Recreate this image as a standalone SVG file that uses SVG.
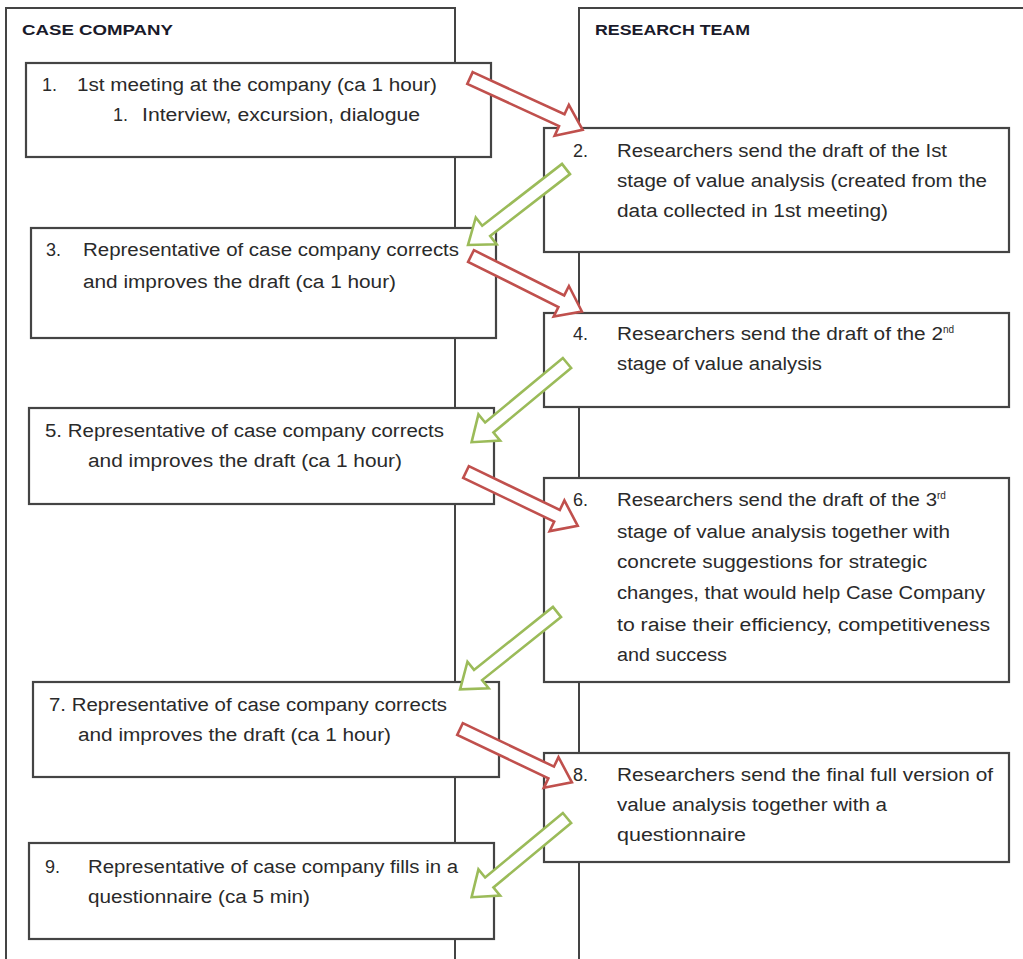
<svg xmlns="http://www.w3.org/2000/svg" xmlns:xlink="http://www.w3.org/1999/xlink" width="1023" height="959" viewBox="0 0 1023 959">
<style>
.lane{fill:#fff;stroke:#444;stroke-width:2}
.box{fill:#fff;stroke:#444;stroke-width:2.2}
.hdr{font-family:"Liberation Sans",Arial,sans-serif;font-weight:bold;font-size:15px;fill:#1a1a2a}
.t{font-family:"Liberation Sans",Arial,sans-serif;font-size:18px;fill:#2a2a2a}
.sup{font-size:10px}
.red{fill:#fff;stroke:#c0504d;stroke-width:2.6;stroke-linejoin:miter}
.green{fill:#fff;stroke:#9bbb59;stroke-width:2.6;stroke-linejoin:miter}
</style>
<defs>
<polygon id="arr" points="0,-6.5 101,-6.5 101,-17 124,0 101,17 101,6.5 0,6.5"/>
</defs>
<rect width="1023" height="959" fill="#fff"/>
<g id="lane-case">
<rect class="lane" x="6" y="8" width="449" height="1000"/>
<text class="hdr" x="22" y="35" textLength="151" lengthAdjust="spacingAndGlyphs">CASE COMPANY</text>
</g>
<g id="lane-research">
<rect class="lane" x="579" y="8" width="500" height="1000"/>
<text class="hdr" x="595" y="35" textLength="155" lengthAdjust="spacingAndGlyphs">RESEARCH TEAM</text>
</g>
<g id="n1">
<rect class="box" x="26" y="63" width="465" height="94"/>
<text class="t" x="42" y="91">1.</text>
<text class="t" x="77" y="91" textLength="360" lengthAdjust="spacingAndGlyphs">1st meeting at the company (ca 1 hour)</text>
<text class="t" x="113" y="121">1.</text>
<text class="t" x="142" y="121" textLength="278" lengthAdjust="spacingAndGlyphs">Interview, excursion, dialogue</text>
</g>
<g id="n2">
<rect class="box" x="544" y="128" width="465" height="124"/>
<text class="t" x="573" y="157">2.</text>
<text class="t" x="617" y="157" textLength="330" lengthAdjust="spacingAndGlyphs">Researchers send the draft of the Ist</text>
<text class="t" x="617" y="187" textLength="370" lengthAdjust="spacingAndGlyphs">stage of value analysis (created from the</text>
<text class="t" x="617" y="217" textLength="271" lengthAdjust="spacingAndGlyphs">data collected in 1st meeting)</text>
</g>
<g id="n3">
<rect class="box" x="31" y="228" width="465" height="110"/>
<text class="t" x="46" y="256">3.</text>
<text class="t" x="83" y="256" textLength="376" lengthAdjust="spacingAndGlyphs">Representative of case company corrects</text>
<text class="t" x="83" y="288" textLength="313" lengthAdjust="spacingAndGlyphs">and improves the draft (ca 1 hour)</text>
</g>
<g id="n4">
<rect class="box" x="544" y="313" width="465" height="94"/>
<text class="t" x="573" y="340">4.</text>
<text class="t" x="617" y="340"><tspan textLength="326" lengthAdjust="spacingAndGlyphs">Researchers send the draft of the 2</tspan><tspan class="sup" dy="-7">nd</tspan></text>
<text class="t" x="617" y="370" textLength="205" lengthAdjust="spacingAndGlyphs">stage of value analysis</text>
</g>
<g id="n5">
<rect class="box" x="29" y="408" width="465" height="96"/>
<text class="t" x="45" y="437" textLength="399" lengthAdjust="spacingAndGlyphs">5. Representative of case company corrects</text>
<text class="t" x="88" y="467" textLength="314" lengthAdjust="spacingAndGlyphs">and improves the draft (ca 1 hour)</text>
</g>
<g id="n6">
<rect class="box" x="544" y="478" width="465" height="204"/>
<text class="t" x="573" y="506">6.</text>
<text class="t" x="617" y="506"><tspan textLength="320" lengthAdjust="spacingAndGlyphs">Researchers send the draft of the 3</tspan><tspan class="sup" dy="-7">rd</tspan></text>
<text class="t" x="617" y="538" textLength="333" lengthAdjust="spacingAndGlyphs">stage of value analysis together with</text>
<text class="t" x="617" y="568" textLength="310" lengthAdjust="spacingAndGlyphs">concrete suggestions for strategic</text>
<text class="t" x="617" y="599" textLength="368" lengthAdjust="spacingAndGlyphs">changes, that would help Case Company</text>
<text class="t" x="617" y="631" textLength="373" lengthAdjust="spacingAndGlyphs">to raise their efficiency, competitiveness</text>
<text class="t" x="617" y="661" textLength="110" lengthAdjust="spacingAndGlyphs">and success</text>
</g>
<g id="n7">
<rect class="box" x="33" y="682" width="466" height="95"/>
<text class="t" x="49" y="711" textLength="398" lengthAdjust="spacingAndGlyphs">7. Representative of case company corrects</text>
<text class="t" x="78" y="741" textLength="313" lengthAdjust="spacingAndGlyphs">and improves the draft (ca 1 hour)</text>
</g>
<g id="n8">
<rect class="box" x="544" y="753" width="465" height="109"/>
<text class="t" x="573" y="781">8.</text>
<text class="t" x="617" y="781" textLength="376" lengthAdjust="spacingAndGlyphs">Researchers send the final  full version of</text>
<text class="t" x="617" y="811" textLength="270" lengthAdjust="spacingAndGlyphs">value analysis together with a</text>
<text class="t" x="617" y="841" textLength="129" lengthAdjust="spacingAndGlyphs">questionnaire</text>
</g>
<g id="n9">
<rect class="box" x="29" y="843" width="465" height="96"/>
<text class="t" x="45" y="873">9.</text>
<text class="t" x="88" y="873" textLength="370" lengthAdjust="spacingAndGlyphs">Representative of case company fills in a</text>
<text class="t" x="88" y="903" textLength="222" lengthAdjust="spacingAndGlyphs">questionnaire (ca 5 min)</text>
</g>
<g id="connectors">
<use xlink:href="#arr" class="red" transform="translate(470,78) rotate(24.7)"/>
<use xlink:href="#arr" class="green" transform="translate(566,169) rotate(142.2)"/>
<use xlink:href="#arr" class="red" transform="translate(471,256) rotate(26.6)"/>
<use xlink:href="#arr" class="green" transform="translate(567,363) rotate(140.3)"/>
<use xlink:href="#arr" class="red" transform="translate(466,472) rotate(25.7)"/>
<use xlink:href="#arr" class="green" transform="translate(557,612) rotate(141.4)"/>
<use xlink:href="#arr" class="red" transform="translate(460,729) rotate(25.5)"/>
<use xlink:href="#arr" class="green" transform="translate(567,818) rotate(140.3)"/>
</g>
</svg>
